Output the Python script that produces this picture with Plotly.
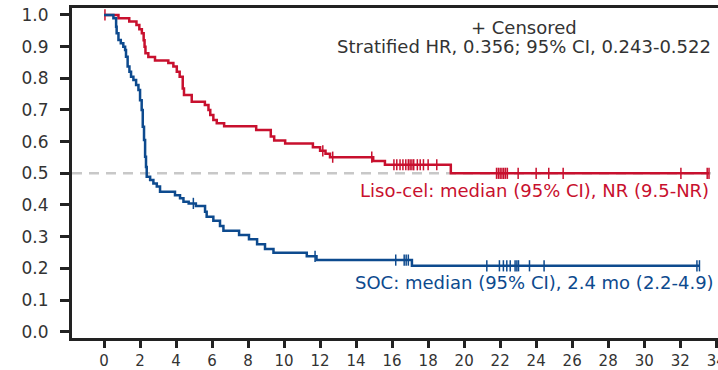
import plotly.graph_objects as go
import numpy as np

# Liso-cel arm: event times (months) and survival after each step
liso_t = [0, 0.8, 1.4, 1.8, 1.96, 2.1, 2.2, 2.25, 2.3, 2.46, 2.83, 3.57, 3.85, 4.04, 4.2, 4.37, 4.44,
          4.87, 5.6, 5.8, 5.9, 6.07, 6.26, 6.67, 8.45, 9.26, 9.45, 10.06, 11.6, 12.0, 12.3, 12.55,
          14.95, 15.6, 19.26]
liso_s = [1.0, 0.99, 0.979, 0.968, 0.955, 0.942, 0.92, 0.90, 0.879, 0.867, 0.856, 0.848, 0.837,
          0.821, 0.805, 0.768, 0.747, 0.726, 0.716, 0.70, 0.684, 0.668, 0.658, 0.649, 0.637, 0.616,
          0.604, 0.594, 0.582, 0.571, 0.562, 0.551, 0.539, 0.527, 0.50]
liso_cens = [0.05, 12.15, 12.7, 14.87, 16.1, 16.26, 16.44, 16.6, 16.76, 16.9, 17.0, 17.1, 17.2,
             17.4, 17.56, 17.74, 18.0, 18.48, 21.8, 21.9, 22.0, 22.1, 22.2, 22.3, 22.4, 23.0,
             24.0, 24.7, 25.5, 32.04, 33.5, 33.6]

# SOC arm
soc_t = [0, 0.52, 0.67, 0.7, 0.8, 0.93, 1.07, 1.17, 1.22, 1.31, 1.41, 1.5, 1.63, 1.78, 1.91, 2.0,
         2.09, 2.15, 2.22, 2.28, 2.33, 2.37, 2.56, 2.74, 2.93, 3.11, 3.94, 4.22, 4.41, 4.7, 5.1,
         5.61, 5.7, 6.07, 6.44, 6.63, 7.5, 8.05, 8.5, 8.94, 9.41, 11.26, 11.8, 17.1]
soc_s = [1.0, 0.99, 0.963, 0.942, 0.921, 0.911, 0.90, 0.889, 0.868, 0.837, 0.821, 0.805, 0.795,
         0.779, 0.763, 0.731, 0.70, 0.647, 0.605, 0.552, 0.52, 0.489, 0.479, 0.468, 0.458, 0.442,
         0.431, 0.421, 0.41, 0.405, 0.397, 0.379, 0.363, 0.350, 0.334, 0.319, 0.305, 0.292,
         0.276, 0.261, 0.249, 0.238, 0.226, 0.208]
soc_cens = [4.96, 11.72, 16.2, 16.67, 16.78, 16.9, 21.26, 21.96, 22.18, 22.37, 22.56, 22.83,
            22.93, 23.02, 23.63, 24.44, 32.93, 33.07]

x_ticks = list(range(0, 36, 2))
y_ticks = [round(0.1 * i, 1) for i in range(11)]

RED = "#C8102E"
BLUE = "#0D4A8E"
FONT = "DejaVu Sans"


def step_at(times, surv, x):
    idx = np.searchsorted(np.array(times), x, side="right") - 1
    return surv[max(idx, 0)]


fig = go.Figure()

for times, surv, cens, col in [(liso_t, liso_s, liso_cens, RED), (soc_t, soc_s, soc_cens, BLUE)]:
    end = max(cens[-1], times[-1])
    xs = list(times) + [end]
    ys = list(surv) + [surv[-1]]
    fig.add_trace(go.Scatter(x=xs, y=ys, mode="lines", line=dict(color=col, width=2.5, shape="hv"),
                             showlegend=False, hoverinfo="skip"))
    cy = [step_at(times, surv, c) for c in cens]
    fig.add_trace(go.Scatter(x=cens, y=cy, mode="markers",
                             marker=dict(symbol="line-ns-open", size=8, color=col,
                                         line=dict(color=col, width=1.5)),
                             showlegend=False, hoverinfo="skip"))

fig.add_shape(type="line", xref="paper", yref="y", x0=0, x1=1, y0=0.5, y1=0.5,
              line=dict(color="#C8C8C8", width=2.5, dash="10px,7px"), layer="below")

ANN = 18
txt = dict(family=FONT, size=ANN, color="#333333")
fig.add_annotation(x=23.3, y=0.959, text="+ Censored", showarrow=False, xanchor="center",
                   yanchor="middle", font=txt)
fig.add_annotation(x=23.3, y=0.899, text="Stratified HR, 0.356; 95% CI, 0.243-0.522", showarrow=False,
                   xanchor="center", yanchor="middle", font=txt)
fig.add_annotation(x=33.7, y=0.447, text="Liso-cel: median (95% CI), NR (9.5-NR)", showarrow=False,
                   xanchor="right", yanchor="middle", font=dict(family=FONT, size=ANN, color=RED))
fig.add_annotation(x=34.0, y=0.154, text="SOC: median (95% CI), 2.4 mo (2.2-4.9)", showarrow=False,
                   xanchor="right", yanchor="middle", font=dict(family=FONT, size=ANN, color=BLUE))

fig.update_layout(
    width=718, height=370,
    margin=dict(l=72, r=0, t=8, b=32, autoexpand=False),
    plot_bgcolor="white", paper_bgcolor="white",
    font=dict(family=FONT, size=17, color="#333333"),
)
fig.update_xaxes(range=[-1.78, 34.1], tickvals=x_ticks, ticktext=[str(v) for v in x_ticks],
                 showgrid=False, zeroline=False, showline=True, linecolor="#222222", linewidth=3,
                 mirror=True, ticks="outside", ticklen=7, tickwidth=2.5, tickcolor="#222222",
                 tickfont=dict(size=15), ticklabelstandoff=0, ticklabeloverflow="allow",
                 automargin=False)
fig.update_yaxes(range=[-0.02, 1.022], tickvals=y_ticks, ticktext=[f"{v:.1f}" for v in y_ticks],
                 showgrid=False, zeroline=False, showline=True, linecolor="#222222", linewidth=3,
                 ticks="outside", ticklen=9, tickwidth=2.5, tickcolor="#222222",
                 ticklabelstandoff=8, automargin=False)

fig.write_html("out.html")
